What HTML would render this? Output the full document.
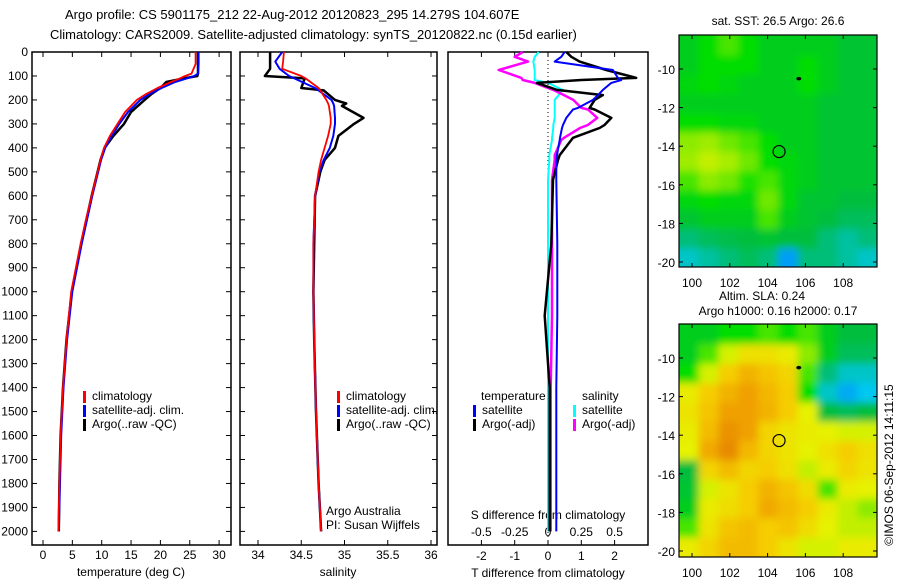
<!DOCTYPE html>
<html><head><meta charset="utf-8"><style>
body{margin:0;background:#fff;}
svg{display:block;font-family:"Liberation Sans",sans-serif;}
</style></head><body>
<svg id="c" width="900" height="580" viewBox="0 0 900 580">
<defs>
<filter id="bl" x="-10%" y="-10%" width="120%" height="120%"><feGaussianBlur stdDeviation="4"/></filter>
<clipPath id="cm1"><rect x="679" y="35" width="198" height="232"/></clipPath>
<clipPath id="cm2"><rect x="679" y="324" width="198" height="233"/></clipPath>
</defs>
<text x="65" y="19" font-size="13">Argo profile: CS 5901175_212 22-Aug-2012 20120823_295 14.279S 104.607E</text>
<text x="50" y="39" font-size="13">Climatology: CARS2009. Satellite-adjusted climatology: synTS_20120822.nc (0.15d earlier)</text>
<text x="0" y="0" font-size="12" transform="translate(893,465) rotate(-90)" text-anchor="middle">©IMOS 06-Sep-2012 14:11:15</text>
</svg>
<script>
// ---- data ----
const depths = [0,50,90,100,110,125,150,175,200,250,300,350,400,450,500,600,700,800,1000,1200,1400,1600,1800,2000];
const tempClim = [26.0,26.0,25.3,24.2,23.3,21.8,19.5,17.6,16.0,14.0,12.7,11.4,10.4,9.8,9.3,8.3,7.3,6.4,4.8,4.0,3.4,3.0,2.8,2.6];
const tempSat  = [26.5,26.5,26.4,25.8,24.5,22.5,20.2,18.2,16.6,14.5,13.0,11.7,10.6,9.9,9.4,8.4,7.5,6.6,5.0,4.1,3.5,3.1,2.9,2.7];
const tempArgo = [26.4,26.4,26.4,26.3,24.0,21.0,20.0,18.5,17.3,15.0,13.8,12.0,10.5,9.8,9.3,8.3,7.4,6.5,4.9,4.0,3.4,3.0,2.8,2.7];
const salDepths = [0,40,70,100,110,150,160,200,215,225,275,300,350,400,450,500,600,800,1000,1200,1500,1800,2000];
const salClim = [34.30,34.29,34.28,34.50,34.55,34.70,34.72,34.79,34.81,34.82,34.84,34.84,34.81,34.77,34.73,34.70,34.66,34.64,34.64,34.65,34.67,34.70,34.73];
const salSat  = [34.28,34.20,34.25,34.36,34.42,34.66,34.70,34.85,34.87,34.88,34.89,34.89,34.87,34.83,34.76,34.71,34.66,34.64,34.64,34.65,34.67,34.70,34.73];
const salArgo = [34.14,34.14,34.14,34.08,34.54,34.50,34.76,34.89,35.02,34.97,35.22,35.11,34.93,34.89,34.77,34.72,34.66,34.65,34.64,34.65,34.67,34.70,34.73];
const dDepths = [0,20,40,75,108,117,129,158,180,200,233,240,275,304,317,358,367,430,450,533,800,1100,1400,2000];
const dTSat  = [0.5,0.4,0.2,1.95,2.1,2.2,1.9,1.65,1.5,1.35,0.9,0.75,0.55,0.45,0.42,0.36,0.35,0.27,0.25,0.25,0.28,0.28,0.25,0.25];
const dTArgo = [0.55,0.7,0.95,1.75,2.65,1.0,-0.33,0.27,1.65,1.4,1.25,1.4,1.9,1.7,1.55,0.75,0.7,0.35,0.3,0.15,0.1,-0.1,0.05,0.05];
const dSSat  = [-0.07,-0.1,-0.11,-0.1,-0.1,-0.1,0.0,0.11,0.08,0.05,0.05,0.05,0.05,0.04,0.04,0.03,0.03,0.01,0.01,0.0,0.0,0.0,0.0,0.0];
const dSArgo = [-0.19,-0.25,-0.15,-0.37,-0.2,-0.19,-0.1,0.04,0.12,0.19,0.25,0.3,0.37,0.3,0.24,0.12,0.10,0.05,0.05,0.03,0.03,0.03,0.02,0.02];
const depthTicks = [0,100,200,300,400,500,600,700,800,900,1000,1100,1200,1300,1400,1500,1600,1700,1800,1900,2000];
const tempTicks = [0,5,10,15,20,25,30];
const salTicks = [34,34.5,35,35.5,36];
const dTTicks = [-2,-1,0,1,2];
const dSTicks = [-0.5,-0.25,0,0.25,0.5];
const latTicks = [-10,-12,-14,-16,-18,-20];
const lonTicks = [100,102,104,106,108];
const sstGrid = [
[.45,.5,.55,.5,.45,.45,.45,.45,.42,.42],
[.45,.5,.5,.5,.45,.45,.5,.45,.42,.42],
[.48,.5,.48,.45,.45,.45,.5,.45,.42,.42],
[.45,.45,.45,.45,.45,.45,.45,.42,.42,.42],
[.5,.5,.48,.48,.45,.45,.45,.42,.42,.42],
[.6,.62,.58,.55,.5,.45,.45,.42,.42,.42],
[.62,.66,.63,.58,.5,.48,.45,.42,.42,.42],
[.55,.6,.58,.52,.55,.48,.45,.42,.42,.42],
[.48,.5,.48,.48,.58,.48,.42,.42,.4,.4],
[.42,.45,.45,.45,.55,.45,.42,.4,.35,.35],
[.3,.35,.38,.4,.42,.4,.4,.3,.25,.3],
[.2,.25,.3,.35,.3,.08,.3,.3,.25,.2]];
const slaGrid = [
[.45,.45,.5,.5,.55,.5,.55,.45,.4,.4],
[.45,.55,.68,.75,.75,.72,.6,.45,.35,.35],
[.5,.68,.8,.86,.82,.78,.55,.3,.2,.2],
[.72,.8,.86,.9,.85,.8,.5,.2,.1,.15],
[.74,.82,.9,.9,.86,.8,.7,.4,.35,.4],
[.72,.84,.94,.9,.78,.74,.72,.7,.68,.68],
[.7,.88,.96,.85,.78,.74,.7,.75,.8,.75],
[.4,.78,.84,.78,.8,.75,.66,.72,.78,.74],
[.42,.68,.74,.8,.86,.82,.76,.55,.72,.7],
[.45,.72,.76,.8,.88,.84,.8,.72,.66,.6],
[.55,.74,.82,.84,.8,.82,.76,.7,.66,.66],
[.72,.78,.84,.84,.8,.74,.68,.68,.72,.72]];
const argoPos = [104.607,-14.279];
// ---- helpers ----
const svg=document.getElementById('c');const NS='http://www.w3.org/2000/svg';
function mk(tag,attrs,parent){const e=document.createElementNS(NS,tag);for(const k in attrs)e.setAttribute(k,attrs[k]);(parent||svg).appendChild(e);return e;}
function txt(x,y,s,anchor,size){const t=mk('text',{x:x,y:y,'font-size':size||12,'text-anchor':anchor||'start'});t.textContent=s;return t;}
const TOP=52,BOT=545;
const yD=d=>TOP+0.2397*d;
const xT=v=>43+5.87*v;
const xS=v=>258+86.5*(v-34);
const xDT=v=>548+33.3*v;
const xDS=v=>548+133.2*v;
function frame(x0,x1,name){const r=mk('rect',{x:x0,y:TOP,width:x1-x0,height:BOT-TOP,fill:'none',stroke:'#000','stroke-width':1.5});

}
function line(xs,ds,fx,col,w,name){const pts=ds.map((d,i)=>fx(xs[i]).toFixed(1)+','+yD(d).toFixed(1)).join(' ');
const p=mk('polyline',{points:pts,fill:'none',stroke:col,'stroke-width':w,'stroke-linejoin':'round'});

}
function xticks(x0,x1,ticks,fx,labelY){ticks.forEach(t=>{const x=fx(t);mk('line',{x1:x,x2:x,y1:BOT,y2:BOT-5,stroke:'#000'});mk('line',{x1:x,x2:x,y1:TOP,y2:TOP+5,stroke:'#000'});
if(labelY){const l=txt(x,labelY,String(t),'middle');

}});}
function legendEntry(x,y,col,label){mk('rect',{x:x,y:y-9,width:3,height:12,fill:col});const t=txt(x+9,y,label);

}
// ---- panel 1 temperature ----
frame(32,231,'temperature-panel');
depthTicks.forEach(d=>{const y=yD(d);mk('line',{x1:32,x2:37,y1:y,y2:y,stroke:'#000'});mk('line',{x1:231,x2:226,y1:y,y2:y,stroke:'#000'});
const l=txt(28,y+4,String(d),'end');

});
xticks(32,231,tempTicks,xT,559);
const t1=txt(131,576,'temperature (deg C)','middle');


line(tempArgo,depths,xT,'#000',2.5,'temp-argo-line');
line(tempSat,depths,xT,'#0000ff',2,'temp-satellite-line');
line(tempClim,depths,xT,'#ff0000',1.8,'temp-climatology-line');
legendEntry(83,400,'#ff0000','climatology');
legendEntry(83,414,'#0000ff','satellite-adj. clim.');
legendEntry(83,428,'#000','Argo(..raw -QC)');
// ---- panel 2 salinity ----
frame(240,437,'salinity-panel');
depthTicks.forEach(d=>{const y=yD(d);mk('line',{x1:240,x2:245,y1:y,y2:y,stroke:'#000'});mk('line',{x1:437,x2:432,y1:y,y2:y,stroke:'#000'});});
xticks(240,437,salTicks,xS,559);
const t2=txt(338,576,'salinity','middle');


line(salArgo,salDepths,xS,'#000',2.5,'sal-argo-line');
line(salSat,salDepths,xS,'#0000ff',2,'sal-satellite-line');
line(salClim,salDepths,xS,'#ff0000',1.8,'sal-climatology-line');
legendEntry(337,400,'#ff0000','climatology');
legendEntry(337,414,'#0000ff','satellite-adj. clim.');
legendEntry(337,428,'#000','Argo(..raw -QC)');
const a1=txt(326,515,'Argo Australia');
const a2=txt(326,529,'PI: Susan Wijffels');
// ---- panel 3 differences ----
frame(448,648,'difference-panel');
mk('line',{x1:548,x2:548,y1:TOP,y2:BOT,stroke:'#000','stroke-dasharray':'1,3'});
xticks(448,648,dTTicks,xDT,560);
dSTicks.forEach(t=>{const l=txt(xDS(t),536,String(t),'middle');

});
const t3=txt(548,519,'S difference from climatology','middle');
const t4=txt(548,577,'T difference from climatology','middle');
line(dSSat,dDepths,xDS,'#00ffff',2,'sdiff-satellite-line');
line(dSArgo,dDepths,xDS,'#ff00ff',2.5,'sdiff-argo-line');
line(dTArgo,dDepths,xDT,'#000',2.5,'tdiff-argo-line');
line(dTSat,dDepths,xDT,'#0000ff',2,'tdiff-satellite-line');
const lt=txt(481,400,'temperature');
const ls=txt(582,400,'salinity');
legendEntry(473,414,'#0000ff','satellite');
legendEntry(473,428,'#000','Argo(-adj)');
legendEntry(573,414,'#00ffff','satellite');
legendEntry(573,428,'#ff00ff','Argo(-adj)');
// ---- maps ----
const cstops=[[0,[0,110,255]],[.15,[0,200,240]],[.3,[0,190,120]],[.4,[0,190,60]],[.45,[0,205,30]],[.5,[0,222,0]],[.6,[140,235,0]],[.7,[230,242,0]],[.8,[245,205,0]],[.9,[240,160,0]],[1,[225,125,0]]];
function cmap(v){for(let i=1;i<cstops.length;i++){if(v<=cstops[i][0]){const a=cstops[i-1],b=cstops[i];const f=(v-a[0])/(b[0]-a[0]);
return 'rgb('+a[1].map((c,k)=>Math.round(c+(b[1][k]-c)*f)).join(',')+')';}}return 'rgb(225,125,0)';}
function map(grid,top,bot,latm10,latm20,clip,name,title1,title2,titleY){
const xL=v=>692+18.9*(v-100);const yL=v=>latm10+(latm20-latm10)*(-10-v)/10;
const g=mk('g',{'clip-path':'url(#'+clip+')'});


const inner=mk('g',{filter:'url(#bl)'},g);
const nr=grid.length,nc=grid[0].length;const lon0=99.3,lon1=109.8,lat0=-8.3,lat1=-20.3;
grid.forEach((row,r)=>row.forEach((v,c)=>{const x0=xL(lon0+(lon1-lon0)*c/nc),x1=xL(lon0+(lon1-lon0)*(c+1)/nc);
const y0=yL(lat0+(lat1-lat0)*r/nr),y1=yL(lat0+(lat1-lat0)*(r+1)/nr);
const pad=(c==0?-12:0),padR=(c==nc-1?12:0),padT=(r==0?-12:0),padB=(r==nr-1?12:0);
const cell=mk('rect',{x:x0+pad,y:y0+padT,width:x1-x0-pad+padR+0.5,height:y1-y0-padT+padB+0.5,fill:cmap(v)},inner);

}));
mk('rect',{x:679,y:top,width:198,height:bot-top,fill:'none',stroke:'#000','stroke-width':1.2});
latTicks.forEach(t=>{const y=yL(t);mk('line',{x1:679,x2:683,y1:y,y2:y,stroke:'#000'});mk('line',{x1:877,x2:873,y1:y,y2:y,stroke:'#000'});
const l=txt(675,y+5,String(t),'end');

});
lonTicks.forEach(t=>{const x=xL(t);mk('line',{x1:x,x2:x,y1:top,y2:top+4,stroke:'#000'});mk('line',{x1:x,x2:x,y1:bot,y2:bot-4,stroke:'#000'});
const l=txt(x,bot+20,String(t),'middle');

});
const c=mk('circle',{cx:xL(argoPos[0]),cy:yL(argoPos[1]),r:6,fill:'none',stroke:'#000','stroke-width':1.2});


mk('ellipse',{cx:xL(105.65),cy:yL(-10.5),rx:2.5,ry:1.8,fill:'#000'});
title1.forEach((s,i)=>{const t=txt(title1X[i],titleY[i],s,'middle');

});
}
let title1X=[778];
map(sstGrid,35,267,69,262,'cm1','sst-map',['sat. SST: 26.5 Argo: 26.6'],['sst-map-title'],[25]);
title1X=[762,778];
map(slaGrid,324,557,358,551,'cm2','sla-map',['Altim. SLA: 0.24','Argo h1000: 0.16 h2000: 0.17'],['sla-map-title','argo-height-title'],[300,315]);
</script>
</body></html>
